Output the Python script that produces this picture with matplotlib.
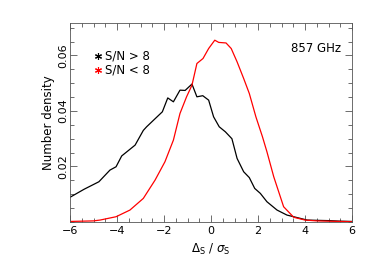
import matplotlib

matplotlib.use("Agg")
import matplotlib.pyplot as plt
from matplotlib.ticker import MultipleLocator, FixedLocator

# S/N > 8 (black)
hi_x = [-6.0, -5.4, -4.77, -4.3, -4.04, -3.8, -3.23, -2.88, -2.74, -2.07, -1.84, -1.6,
        -1.32, -1.1, -0.81, -0.6, -0.35, -0.1, 0.11, 0.35, 0.61, 0.89, 1.11, 1.39, 1.63,
        1.86, 2.1, 2.38, 2.81, 3.23, 3.66, 4.09, 4.5, 5.0, 5.5, 6.0]
hi_y = [0.0089, 0.0118, 0.0145, 0.0187, 0.0199, 0.0238, 0.0277, 0.0330, 0.0343, 0.0397,
        0.0447, 0.0433, 0.0475, 0.0474, 0.0497, 0.0451, 0.0455, 0.0439, 0.0379, 0.0343,
        0.0325, 0.0300, 0.0229, 0.0181, 0.0160, 0.0121, 0.0103, 0.0073, 0.0043, 0.0025,
        0.0016, 0.0007, 0.0006, 0.0005, 0.0003, 0.0002]

# S/N < 8 (red)
lo_x = [-6.0, -5.0, -4.72, -4.04, -3.45, -2.88, -2.38, -1.96, -1.6, -1.32, -1.04, -0.81,
        -0.6, -0.34, -0.1, 0.16, 0.33, 0.64, 0.86, 1.11, 1.39, 1.63, 1.91, 2.19, 2.38,
        2.67, 3.09, 3.52, 4.0, 4.5, 5.0, 6.0]
lo_y = [0.0002, 0.0004, 0.0007, 0.0019, 0.0043, 0.0085, 0.0151, 0.0217, 0.0295, 0.0391,
        0.0451, 0.0493, 0.0571, 0.0589, 0.0625, 0.0655, 0.0647, 0.0645, 0.0625, 0.0577,
        0.0517, 0.0463, 0.0379, 0.0307, 0.0253, 0.0163, 0.0055, 0.0017, 0.0007, 0.0004,
        0.0003, 0.0001]

plt.rcParams["font.family"] = ["DejaVu Sans"]

fig = plt.figure(figsize=(3.74, 2.67), dpi=100)
ax = fig.add_axes([70 / 374, 1 - 222 / 267, 282 / 374, 199.3 / 267])

ax.plot(hi_x, hi_y, color="black", lw=0.9)
ax.plot(lo_x, lo_y, color="red", lw=0.9)

# legend-like asterisks + labels
ax.plot([-4.8], [0.0598], marker=(6, 2, 0), color="black", ms=5, mew=0.8)
ax.plot([-4.8], [0.0549], marker=(6, 2, 0), color="red", ms=5, mew=0.8)
ax.text(-4.5, 0.0598, "S/N > 8", fontsize=8.5, va="center")
ax.text(-4.5, 0.0549, "S/N < 8", fontsize=8.5, va="center")
ax.text(0.96, 0.87, "857 GHz", transform=ax.transAxes, fontsize=8.5, ha="right", va="center")

ax.set_xlim(-6, 6)
ax.set_ylim(0, 0.0718)
ax.xaxis.set_major_locator(MultipleLocator(2))
ax.xaxis.set_minor_locator(MultipleLocator(0.5))
ax.yaxis.set_major_locator(FixedLocator([0.02, 0.04, 0.06]))
ax.yaxis.set_minor_locator(MultipleLocator(0.005))
ax.tick_params(which="both", direction="in", top=True, right=True, labelsize=8,
               width=0.6, color="#555555")
ax.tick_params(which="major", length=5)
ax.tick_params(which="minor", length=3)
ax.tick_params(axis="y", labelrotation=90, pad=1.5)
ax.tick_params(axis="x", pad=3)
for lab in ax.get_yticklabels():
    lab.set_va("center")
for sp in ax.spines.values():
    sp.set_linewidth(0.6)
    sp.set_color("#555555")

ax.set_xlabel(r"$\Delta_{\rm S}$ / $\sigma_{\rm S}$", fontsize=8.5)
ax.set_ylabel("Number density", fontsize=8.5, labelpad=2)

fig.savefig("out.png", dpi=100)
